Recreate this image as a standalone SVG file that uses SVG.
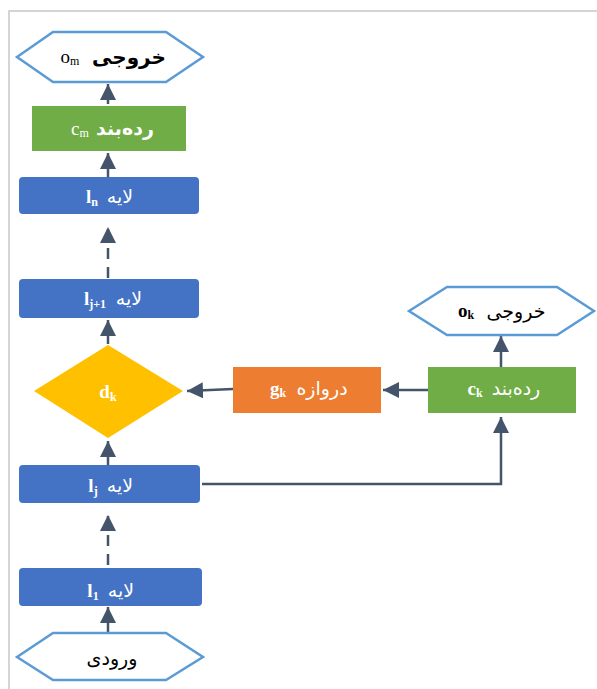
<svg xmlns="http://www.w3.org/2000/svg" width="597" height="689" viewBox="0 0 597 689">
<style>
.hex{fill:#ffffff;stroke:#5b9bd5;stroke-width:2.5}
.blue{fill:#4472c4}
.green{fill:#70ad47}
.orange{fill:#ed7d31}
.gold{fill:#ffc000}
.con{fill:none;stroke:#44546a;stroke-width:2.5}
.dash{stroke-dasharray:11 8}
text{font-family:"Liberation Serif","DejaVu Serif",serif;text-anchor:middle}
.ar{font-family:"Liberation Serif","DejaVu Sans","Noto Sans",serif;font-size:19px}
.lat{font-size:19px}
.sub{font-size:12px}
.w{fill:#ffffff}
.k{fill:#000000}
.b{font-weight:bold}
</style>
<defs>
<marker id="ah" viewBox="0 0 10 10" refX="10" refY="5" markerWidth="6.4" markerHeight="6.4" markerUnits="strokeWidth" orient="auto">
<path d="M0,0 L10,5 L0,10 z" fill="#44546a"/>
</marker>
</defs>
<rect x="0" y="0" width="597" height="689" fill="#ffffff"/>
<path d="M9,689 V11 H597" fill="none" stroke="#c8c8c8" stroke-width="1.5"/>

<g id="connectors">
<path class="con" d="M108,104 V84" marker-end="url(#ah)"/>
<path class="con" d="M108,177 V153" marker-end="url(#ah)"/>
<path class="con dash" d="M108,278 V227" marker-end="url(#ah)"/>
<path class="con" d="M108,344 V320" marker-end="url(#ah)"/>
<path class="con" d="M108,465 V441" marker-end="url(#ah)"/>
<path class="con dash" d="M108,565 V515" marker-end="url(#ah)"/>
<path class="con" d="M108,633 V607" marker-end="url(#ah)"/>
<path class="con" d="M202,484 H501 V417" marker-end="url(#ah)"/>
<path class="con" d="M501,367 V336" marker-end="url(#ah)"/>
<path class="con" d="M428,390 H383" marker-end="url(#ah)"/>
<path class="con" d="M233,389 L187,391" marker-end="url(#ah)"/>
</g>

<g id="output-m">
<polygon class="hex" points="17,57 53,32 166,32 203,57 166,82 53,82"/>
<text class="k"><tspan class="lat" x="70" y="63">o</tspan><tspan class="sub" dy="2">m</tspan><tspan class="ar b" x="129" y="64" style="font-size:20px">خروجی</tspan></text>
</g>

<g id="classifier-m">
<rect class="green" x="32" y="106" width="154" height="45"/>
<text class="w"><tspan class="lat" x="80" y="135">c</tspan><tspan class="sub" dy="2">m</tspan><tspan class="ar b" x="125" y="135">ردەبند</tspan></text>
</g>

<g id="layer-n">
<rect class="blue" x="19" y="177" width="180" height="37" rx="4"/>
<text class="w"><tspan class="lat b" x="92" y="203">l</tspan><tspan class="sub b" dy="3">n</tspan><tspan class="ar" x="120" y="203">لایه</tspan></text>
</g>

<g id="layer-j1">
<rect class="blue" x="19" y="279" width="180" height="39" rx="4"/>
<text class="w"><tspan class="lat b" x="95" y="305">l</tspan><tspan class="sub b" dy="3">j+1</tspan><tspan class="ar" x="129" y="305">لایه</tspan></text>
</g>

<g id="decision-k">
<polygon class="gold" points="108,345 183,391 108,438 34,391"/>
<text class="w"><tspan class="lat b" x="108" y="398">d</tspan><tspan class="sub b" dy="3">k</tspan></text>
</g>

<g id="layer-j">
<rect class="blue" x="19" y="465" width="181" height="38" rx="4"/>
<text class="w"><tspan class="lat b" x="93" y="492">l</tspan><tspan class="sub b" dy="3">j</tspan><tspan class="ar" x="120" y="492">لایه</tspan></text>
</g>

<g id="layer-1">
<rect class="blue" x="19" y="568" width="183" height="38" rx="4"/>
<text class="w"><tspan class="lat b" x="93" y="597">l</tspan><tspan class="sub b" dy="3">1</tspan><tspan class="ar" x="121" y="597">لایه</tspan></text>
</g>

<g id="input">
<polygon class="hex" points="17,657 53,633 166,633 203,657 166,680 53,680"/>
<text class="k ar" x="112" y="665">ورودی</text>
</g>

<g id="output-k">
<polygon class="hex" points="409,311 447,287 557,287 594,311 557,335 447,335"/>
<text class="k"><tspan class="lat b" x="466" y="317">o</tspan><tspan class="sub b" dy="2">k</tspan><tspan class="ar" x="516" y="318">خروجی</tspan></text>
</g>

<g id="classifier-k">
<rect class="green" x="428" y="367" width="148" height="46"/>
<text class="w"><tspan class="lat b" x="475" y="395">c</tspan><tspan class="sub b" dy="2">k</tspan><tspan class="ar" x="516" y="395">ردەبند</tspan></text>
</g>

<g id="gate-k">
<rect class="orange" x="233" y="367" width="148" height="46"/>
<text class="w"><tspan class="lat b" x="278" y="395">g</tspan><tspan class="sub b" dy="2">k</tspan><tspan class="ar" x="322" y="395">دروازه</tspan></text>
</g>
</svg>
